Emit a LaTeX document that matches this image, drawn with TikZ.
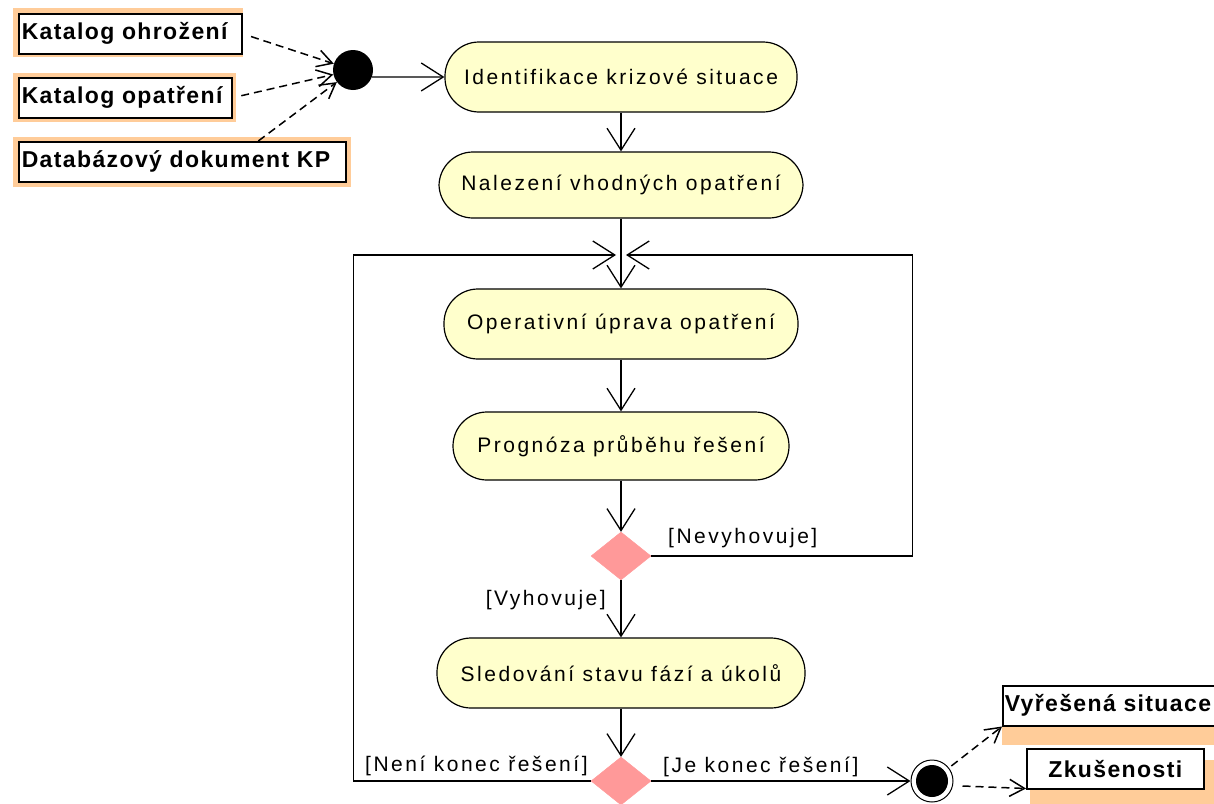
\documentclass[tikz,border=0pt]{standalone}
\usepackage{fontspec}
\setmainfont{Liberation Sans}
\newfontfamily\actfont{Liberation Sans}[LetterSpace=12]
\newfontfamily\objfont{Liberation Sans}[LetterSpace=6]
\usetikzlibrary{arrows.meta,shapes.geometric,calc}

\definecolor{actfill}{HTML}{FFFFCC}
\definecolor{decfill}{HTML}{FF9999}
\definecolor{objshade}{HTML}{FFCC99}

\begin{document}
\begin{tikzpicture}[x=1pt,y=-1pt,
  action/.style={draw, line width=1.2pt, fill=actfill, rounded corners=34pt,
    minimum height=70pt, inner sep=0pt,
    font=\actfont\fontsize{21}{25}\selectfont},
  decision/.style={draw=decfill, fill=decfill, diamond, inner sep=0pt,
    minimum width=60pt, minimum height=48pt},
  objbox/.style={draw, line width=1.5pt, fill=white, anchor=north west,
    minimum height=40pt, inner xsep=3pt, inner ysep=0pt, align=left,
    font=\objfont\bfseries\fontsize{23}{26}\selectfont},
  guard/.style={inner sep=0pt, font=\actfont\fontsize{21}{25}\selectfont},
  flow/.style={draw, line width=1.3pt,
    -{Straight Barb[length=22pt,width=28pt]}},
  dep/.style={draw, line width=1.5pt, dash pattern=on 8pt off 5pt,
    -{Straight Barb[length=15pt,width=17pt]}}
]
\fill[white] (0,0) rectangle (1214,803);
\useasboundingbox (0,0) rectangle (1214,803);

% shading behind the object boxes
\fill[objshade] (13,8) rectangle (243,57);
\fill[objshade] (13,73) rectangle (236,122);
\fill[objshade] (13,137) rectangle (351,187);
\fill[objshade] (1002,685) rectangle (1220,745);
\fill[objshade] (1030,760) rectangle (1220,810);

% object boxes
\node[objbox, text width=217pt] (B1) at (18,13) {Katalog ohrožení};
\node[objbox, text width=207pt] (B2) at (18,77) {Katalog opatření};
\node[objbox, text width=321pt] (B3) at (18,141) {Databázový dokument KP};
\node[objbox, text width=213pt, inner xsep=2pt] (B4) at (1002,685) {Vyřešená situace};
\node[objbox, text width=171pt, align=center] (B5) at (1026,748) {Zkušenosti};

% start and end
\node[circle, fill=black, minimum size=40pt, inner sep=0pt] (init) at (353,70) {};
\node[circle, draw, line width=1pt, fill=white, minimum size=42pt, inner sep=0pt]
  (fin) at (932,781) {};
\fill (fin.center) circle (16pt);

% activities
\node[action, minimum width=352pt] (A1) at (621,77) {Identifikace krizové situace};
\node[action, minimum width=364pt, minimum height=66pt] (A2) at (621,185) {Nalezení vhodných opatření};
\node[action, minimum width=354pt] (A3) at (621,324) {Operativní úprava opatření};
\node[action, minimum width=336pt, minimum height=68pt] (A4) at (621,446) {Prognóza průběhu řešení};
\node[action, minimum width=368pt] (A5) at (621,673) {Sledování stavu fází a úkolů};

% decisions
\node[decision] (D1) at (621,556) {};
\node[decision] (D2) at (621,781) {};

% loop junction
\coordinate (jR) at (626,255);
\coordinate (jL) at (616,255);

% guards
\node[guard, anchor=west] (gNo) at (668,538) {[Nevyhovuje]};
\node[guard, anchor=east] (gYes) at (606,600) {[Vyhovuje]};
\node[guard, anchor=west] (gGoOn) at (365,766) {[Není konec řešení]};
\node[guard, anchor=west] (gEnd) at (663,767) {[Je konec řešení]};

% inputs
\draw[dep, shorten <=9pt] (B1.east) -- (init);
\draw[dep, shorten <=9pt] (B2.east) -- (init);
\draw[dep] ([xshift=76pt]B3.north) -- (init);

% control flow
\draw[flow] (init.-20) -- (A1.west);
\draw[flow] (A1) -- (A2);
\draw[flow] (A2) -- (A3);
\draw[flow] (A3) -- (A4);
\draw[flow] (A4) -- (D1);
\draw[flow] (D1) -- (A5);
\draw[flow] (A5) -- (D2);
\draw[flow] (D2) -- (fin);
\draw[flow] (D1.east) -- ++(261,0) |- (jR);
\draw[flow] (D2.west) -- ++(-237,0) |- (jL);

% outputs
\draw[dep, shorten <=3pt] (fin) -- (B4.south west);
\draw[dep] ([shift={(9pt,-5pt)}]fin.east) -- ([yshift=1pt]B5.south west);
\end{tikzpicture}
\end{document}
